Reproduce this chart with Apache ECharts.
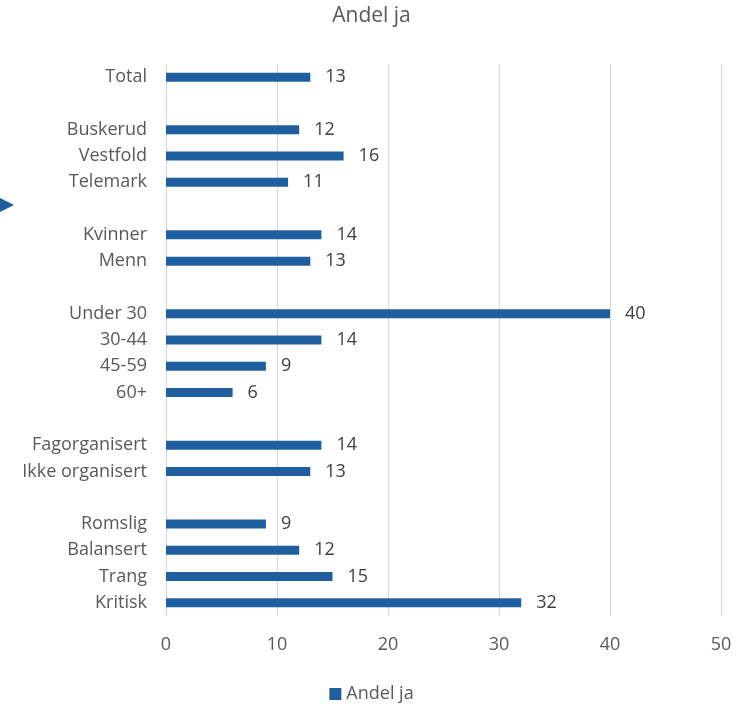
<!DOCTYPE html>
<html><head><meta charset="utf-8">
<script src="https://cdn.jsdelivr.net/npm/echarts@6/dist/echarts.min.js"></script>
<style>html,body{margin:0;padding:0;background:#fff}#c{width:743px;height:704px}</style>
</head><body><div id="c"></div>
<script>
const categories = ["Total","","Buskerud","Vestfold","Telemark","","Kvinner","Menn","","Under 30","30-44","45-59","60+","","Fagorganisert","Ikke organisert","","Romslig","Balansert","Trang","Kritisk"];
const values = [13,null,12,16,11,null,14,13,null,40,14,9,6,null,14,13,null,9,12,15,32];
const xTicks = [0,10,20,30,40,50];
const seriesName = "Andel ja";

const chart = echarts.init(document.getElementById('c'));
const font = "'Open Sans', 'Liberation Sans', sans-serif";
chart.setOption({
  animation:false,
  title:{text:seriesName,left:'center',top:1,textStyle:{fontFamily:font,fontSize:21,fontWeight:'normal',color:'#595959'}},
  legend:{data:[seriesName],top:680,left:'center',itemWidth:12,itemHeight:12,itemGap:4,icon:'rect',textStyle:{fontFamily:font,fontSize:18,color:'#595959'}},
  grid:{left:166,right:22,top:64,bottom:88,containLabel:false},
  xAxis:{type:'value',min:xTicks[0],max:xTicks[xTicks.length-1],interval:10,
    axisLine:{show:false},axisTick:{show:false},
    splitLine:{lineStyle:{color:'#d9d9d9',width:1.3}},
    axisLabel:{fontFamily:font,fontSize:18,color:'#595959',margin:20}},
  yAxis:{type:'category',data:categories,inverse:true,
    axisLine:{show:false},axisTick:{show:false},
    axisLabel:{fontFamily:font,fontSize:18,color:'#595959',margin:19}},
  series:[{name:seriesName,type:'bar',data:values,barWidth:9,
    itemStyle:{color:'#1f5f9f'},
    label:{show:true,position:'right',distance:15,fontFamily:font,fontSize:18,color:'#404040'}}],
  graphic:[{type:'polygon',shape:{points:[[0,198],[14,205],[0,212]]},style:{fill:'#1f5f9f'}}]
});
</script></body></html>
